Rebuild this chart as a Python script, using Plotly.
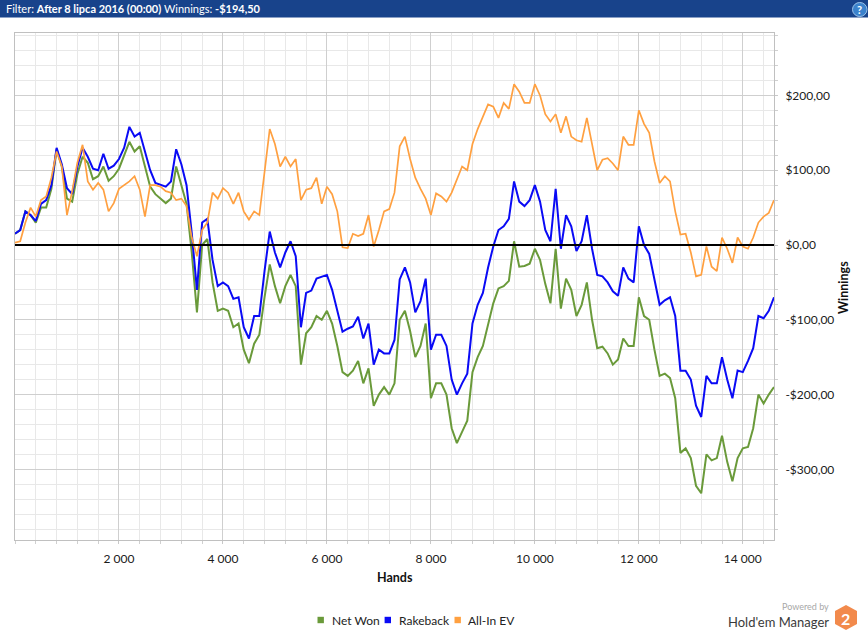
import plotly.graph_objects as go

# hands played (sampled every 100 hands)
hands = list(range(0, 14601, 100))

net_won = [
    15, 20, 45, 40, 30, 50, 50, 75, 128, 105,
    62, 58, 95, 118, 110, 88, 92, 105, 86, 92,
    102, 120, 138, 125, 132, 105, 78, 68, 62, 56,
    62, 105, 80, 55, -10, -90, 0, 8, -50, -88,
    -85, -88, -110, -105, -140, -158, -132, -120, -70, -26,
    -55, -78, -55, -40, -55, -160, -118, -110, -95, -100,
    -88, -105, -135, -170, -175, -168, -155, -185, -165, -215,
    -200, -190, -200, -185, -100, -88, -115, -150, -135, -105,
    -205, -185, -185, -200, -245, -265, -250, -235, -170, -150,
    -135, -105, -78, -58, -55, -48, 5, -29, -28, -25,
    -5, -20, -52, -78, -5, -85, -45, -60, -95, -80,
    -50, -100, -138, -136, -145, -160, -153, -125, -135, -135,
    -70, -95, -100, -140, -175, -172, -178, -205, -278, -272,
    -285, -322, -332, -280, -288, -285, -255, -290, -316, -285,
    -272, -270, -245, -200, -212, -200, -190,
]

rakeback = [
    15, 20, 45, 40, 32, 55, 60, 80, 130, 108,
    76, 68, 105, 130, 118, 102, 100, 122, 102, 106,
    115, 130, 158, 145, 150, 125, 100, 83, 80, 78,
    85, 128, 108, 80, 16, -60, 30, 35, -20, -55,
    -50, -55, -72, -70, -110, -125, -95, -95, -35, 18,
    -10, -30, -10, 5, -15, -110, -64, -61, -45, -42,
    -40, -60, -88, -116, -112, -109, -96, -125, -105, -160,
    -140, -145, -145, -127, -46, -30, -50, -90, -75, -45,
    -140, -120, -120, -135, -180, -200, -185, -172, -105, -80,
    -64, -30, -2, 20, 25, 35, 85, 58, 52, 60,
    80, 58, 20, 5, 75, -5, 40, 25, -8, 5,
    40, -5, -40, -42, -50, -62, -68, -30, -45, -50,
    25, 0, -12, -45, -80, -74, -70, -95, -168, -168,
    -180, -215, -230, -175, -185, -185, -150, -180, -205, -168,
    -170, -155, -138, -95, -98, -88, -70,
]

all_in_ev = [
    3, 5, 30, 50, 38, 60, 65, 90, 125, 105,
    40, 72, 110, 134, 85, 74, 83, 74, 45, 56,
    75, 80, 85, 92, 74, 38, 80, 80, 78, 72,
    70, 60, 62, 52, 10, -15, 20, 30, 70, 62,
    76, 70, 55, 70, 45, 34, 45, 40, 100, 155,
    135, 105, 118, 105, 115, 60, 74, 76, 90, 55,
    78, 68, 45, -3, -4, 15, 12, 15, 40, -2,
    20, 45, 48, 70, 132, 145, 115, 90, 75, 62,
    40, 69, 65, 58, 70, 88, 105, 100, 135, 155,
    172, 188, 185, 170, 190, 182, 215, 205, 190, 190,
    215, 200, 175, 165, 175, 150, 172, 145, 140, 138,
    170, 135, 100, 114, 116, 109, 100, 145, 134, 134,
    180, 162, 150, 112, 83, 92, 85, 45, 14, 15,
    -10, -42, -40, -2, -29, -35, 10, -5, -24, 10,
    -2, -5, 10, 30, 38, 43, 60,
]

series_names = ["Net Won", "Rakeback", "All-In EV"]
series_colors = ["#6a9a3a", "#0a0af5", "#ffa040"]

x_tickvals = [2000, 4000, 6000, 8000, 10000, 12000, 14000]
x_ticktext = ["2 000", "4 000", "6 000", "8 000", "10 000", "12 000", "14 000"]
y_tickvals = [-300, -200, -100, 0, 100, 200]
y_ticktext = ["-$300,00", "-$200,00", "-$100,00", "$0,00", "$100,00", "$200,00"]

FONT = "Lato"
W, H = 868, 632
L, R, T, B = 15, 774, 33, 540


def px(x):
    return (x - L) / (R - L)


def py(y):
    return (B - y) / (B - T)


fig = go.Figure()
for vals, name, col, w in zip([net_won, rakeback, all_in_ev], series_names, series_colors, [2, 2, 1.7]):
    fig.add_trace(go.Scatter(x=hands, y=vals, mode="lines", name=name,
                             line=dict(color=col, width=w), showlegend=False))

grid_major = "#cfcfcf"
grid_minor = "#e8e8e8"

fig.update_layout(
    width=W, height=H, autosize=False,
    margin=dict(l=L, r=W - R, t=T, b=H - B),
    paper_bgcolor="white", plot_bgcolor="white",
    font=dict(family=FONT, size=12, color="#1a1a1a"),
    xaxis=dict(range=[0, 14600], tickvals=x_tickvals, ticktext=x_ticktext,
               showgrid=True, gridcolor=grid_major, gridwidth=1,
               ticks="outside", ticklen=3, tickcolor="#c8c8c8",
               showline=True, linecolor="#c0c0c0", mirror=True, zeroline=False,
               minor=dict(tickmode="linear", tick0=0, dtick=400, showgrid=True,
                          gridcolor=grid_minor, ticks="outside", ticklen=3, tickcolor="#d0d0d0"),
               ticklabelstandoff=5),
    yaxis=dict(range=[-394.5, 283.5], side="right", tickvals=y_tickvals, ticktext=y_ticktext,
               showgrid=True, gridcolor=grid_major, gridwidth=1,
               ticks="outside", ticklen=3, tickcolor="#c8c8c8",
               showline=True, linecolor="#c0c0c0", mirror=True, zeroline=False,
               minor=dict(tickmode="linear", tick0=0, dtick=20, showgrid=True,
                          gridcolor=grid_minor, ticks="outside", ticklen=3, tickcolor="#d0d0d0"),
               ticklabelstandoff=5),
)

shapes = [
    # zero line on top of the series
    dict(type="line", xref="paper", yref="y", x0=0, x1=1, y0=0, y1=0,
         line=dict(color="black", width=2), layer="above"),
    # header bar
    dict(type="rect", xref="paper", yref="paper", x0=px(0), x1=px(W), y0=py(17.5), y1=py(0),
         fillcolor="#18438b", line=dict(width=0), layer="above"),
    # help icon
    dict(type="circle", xref="paper", yref="paper", x0=px(852.5), x1=px(867), y0=py(16.5), y1=py(2.5),
         fillcolor="#3b82cc", line=dict(color="#9cc3ea", width=1), layer="above"),
]

# Hold'em Manager hexagon logo
hexa = [(846, 605), (857, 611), (857, 624), (846, 630), (835, 624), (835, 611)]
path = "M " + " L ".join("{:.5f},{:.5f}".format(px(a), py(b)) for a, b in hexa) + " Z"
shapes.append(dict(type="path", xref="paper", yref="paper", path=path,
                   fillcolor="#f28a4c", line=dict(width=0)))

# legend squares
legend_sq_x = [320.7, 387.8, 457.7]
legend_tx_x = [329.5, 396.9, 466.4]
legend_y = 620
for sx, col in zip(legend_sq_x, series_colors):
    shapes.append(dict(type="rect", xref="paper", yref="paper",
                       x0=px(sx - 3.2), x1=px(sx + 3.2), y0=py(legend_y + 3.2), y1=py(legend_y - 3.2),
                       fillcolor=col, line=dict(width=0)))
fig.update_layout(shapes=shapes)

ann = [
    dict(text="Filter: <b>After 8 lipca 2016 (00:00)</b> Winnings: <b>-$194,50</b>",
         x=px(4), y=py(9), xanchor="left", yanchor="middle",
         font=dict(color="white", size=11)),
    dict(text="<b>?</b>", x=px(859.8), y=py(9.8), xanchor="center", yanchor="middle",
         font=dict(color="white", size=11)),
    dict(text="<b>Hands</b>", x=px(395), y=py(577), xanchor="center", yanchor="middle",
         font=dict(size=12.5, color="#111")),
    dict(text="<b>Winnings</b>", x=px(843), y=py(287), xanchor="center", yanchor="middle",
         textangle=-90, font=dict(size=12.5, color="#111")),
    dict(text="Powered by", x=px(830.5), y=py(606.5), xanchor="right", yanchor="middle",
         font=dict(size=9, color="#a8a8a8")),
    dict(text="Hold'em Manager", x=px(830.5), y=py(621.5), xanchor="right", yanchor="middle",
         font=dict(size=13, color="#3a3a3a")),
    dict(text="<b>2</b>", x=px(846), y=py(618), xanchor="center", yanchor="middle",
         font=dict(size=16, color="white")),
]
for tx, name in zip(legend_tx_x, series_names):
    ann.append(dict(text=name, x=px(tx), y=py(legend_y), xanchor="left", yanchor="middle",
                    font=dict(size=12, color="#222")))
for a in ann:
    a.update(xref="paper", yref="paper", showarrow=False)
fig.update_layout(annotations=ann)

fig.write_html("out.html", config={"displayModeBar": False},
               post_script="document.body.style.margin='0';")
